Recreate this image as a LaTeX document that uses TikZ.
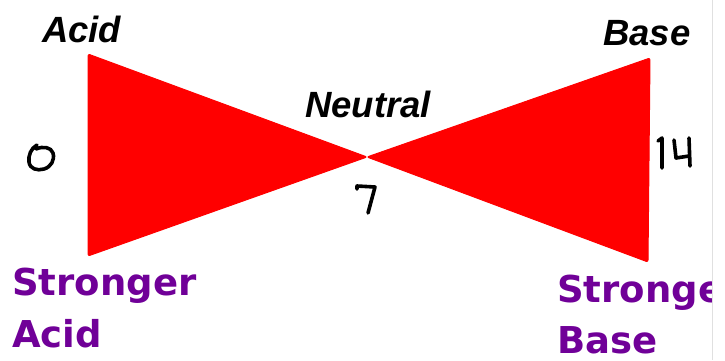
\documentclass[tikz,border=0pt]{standalone}
\usepackage{fontspec}
\newfontfamily\headfont{Liberation Sans}
\newfontfamily\strongfont{DejaVu Sans}
\definecolor{bowred}{RGB}{255,0,0}
\definecolor{strongpurple}{RGB}{112,0,152}
\tikzset{
  wing/.style={fill=bowred, draw=bowred, line width=1pt, rounded corners=2pt},
  headlabel/.style={inner sep=0pt, anchor=base west, font=\headfont\bfseries\itshape\fontsize{36.5}{40}\selectfont},
  stronglabel/.style={inner sep=0pt, anchor=base west, text=strongpurple, font=\strongfont\bfseries\fontsize{37}{40}\selectfont},
  hand/.style={draw=black, line width=3.6pt, line cap=round, line join=round}
}
\begin{document}
\begin{tikzpicture}[x=1pt, y=-1pt]
\useasboundingbox (0,0) rectangle (725,360);
\fill[white] (0,0) rectangle (725,360);

% the two wings of the bow tie, meeting at pH 7
\coordinate (apex) at (367,157);
\fill[wing] (88,54) -- (88,256) -- (apex) -- cycle;
\fill[wing] (apex) -- (650,58) -- (648,262) -- cycle;

% headings
\node[headlabel] (acid) at (42,42) {Acid};
\node[headlabel] (base) at (603,45) {Base};
\node[headlabel] (neutral) at (305,117) {Neutral};

% handwritten pH values
% 0
\draw[hand] (37,145) .. controls (31,148) and (28,156) .. (29,162)
  .. controls (30,169) and (37,171) .. (44,169)
  .. controls (51,167) and (55,160) .. (53,153)
  .. controls (51,147) and (43,146) .. (36,149);
% 7
\draw[hand] (357,189) -- (357,186) -- (375,187) -- (368,213);
% 14
\draw[hand] (658,141) -- (662,138) -- (662,168);
\draw[hand] (674,140) -- (676,158) -- (689,156);
\draw[hand] (689,138) -- (690,166);

% strength captions, cut at the right edge
\begin{scope}
\clip (0,0) rectangle (712,360);
\node[stronglabel] (sacid1) at (12,295) {Stronger};
\node[stronglabel] (sacid2) at (12,347) {Acid};
\node[stronglabel] (sbase1) at (557,302) {Stronger};
\node[stronglabel] (sbase2) at (557,353) {Base};
\end{scope}
\draw[black!12, line width=0.8pt] (712.5,0) -- (712.5,360);
\end{tikzpicture}
\end{document}
